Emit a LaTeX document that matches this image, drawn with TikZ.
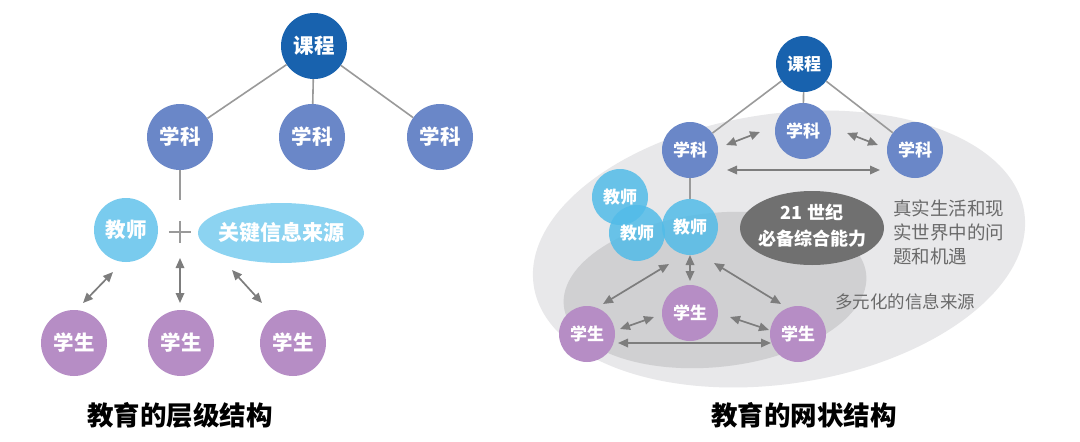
\documentclass[tikz,border=0pt]{standalone}
\usepackage{fontspec}
\setmainfont{Noto Sans CJK SC}
\usetikzlibrary{shapes.geometric,arrows.meta}
\definecolor{kcblue}{HTML}{1862AE}
\definecolor{xkblue}{HTML}{6A87C8}
\definecolor{jscyan}{HTML}{79CBEE}
\definecolor{jscyanR}{HTML}{52BCE8}
\definecolor{srccyan}{HTML}{8CD3F1}
\definecolor{xspurple}{HTML}{B68DC5}
\definecolor{linegray}{HTML}{9A9A9A}
\definecolor{arrgray}{HTML}{7D7D7D}
\definecolor{bigell}{HTML}{E8E8EA}
\definecolor{innerell}{HTML}{D0D0D2}
\definecolor{darkell}{HTML}{707070}
\definecolor{txtgray}{HTML}{6A6A6A}
\tikzset{
  bigcirc/.style={circle, minimum size=66pt, inner sep=0pt, text=white, font=\bfseries\fontsize{20.5}{20.5}\selectfont},
  smallcirc/.style={circle, minimum size=56pt, inner sep=0pt, text=white, font=\bfseries\fontsize{17}{17}\selectfont},
  link/.style={draw=linegray, line width=1.6pt},
  arr/.style={draw=arrgray, line width=1.7pt, {Triangle[length=10pt,width=8.5pt]}-{Triangle[length=10pt,width=8.5pt]}},
  titletext/.style={font=\bfseries\fontsize{26.5}{26.5}\selectfont, text=black},
}
\begin{document}
\begin{tikzpicture}[x=1pt,y=-1pt]
\useasboundingbox (0,0) rectangle (1080,442);
\fill[white] (0,0) rectangle (1080,442);

% ---------------- left: hierarchical ----------------
\node[bigcirc, fill=kcblue] (kc) at (314,46) {课程};
\node[bigcirc, fill=xkblue] (xk1) at (180,137) {学科};
\node[bigcirc, fill=xkblue] (xk2) at (312,137) {学科};
\node[bigcirc, fill=xkblue] (xk3) at (440,137) {学科};
\node[bigcirc, minimum size=64pt, fill=jscyan] (js) at (126,230) {教师};
\node[minimum size=22pt, inner sep=0pt] (plus) at (180,232) {};
\node[ellipse, fill=srccyan, minimum width=166pt, minimum height=60pt, inner sep=0pt] (src) at (281,233) {};
\node[text=white, font=\bfseries\fontsize{21}{21}\selectfont, inner sep=0pt] (srct) at (src) {关键信息来源};
\node[bigcirc, fill=xspurple] (xs1) at (74,343) {学生};
\node[bigcirc, fill=xspurple] (xs2) at (181,343) {学生};
\node[bigcirc, fill=xspurple] (xs3) at (293,343) {学生};

\draw[link] (kc) -- (xk1);
\draw[link] (kc) -- (xk2);
\draw[link] (kc) -- (xk3);
\draw[link] (xk1) -- ([shift={(0,-32)}]plus.center);
\draw[draw=linegray, line width=1.5pt] (plus.north) -- (plus.south) (plus.west) -- (plus.east);

\draw[arr] ([shift={(-13,42)}]js.center) -- ([shift={(9,-40)}]xs1.center);
\draw[arr] ([shift={(0,26)}]plus.center) -- ([shift={(-1,-40)}]xs2.center);
\draw[arr] ([shift={(-49,37)}]src.center) -- ([shift={(-31,-40)}]xs3.center);

\node[titletext] (t1) at (180,415) {教育的层级结构};

% ---------------- right: network ----------------
\fill[bigell, rotate around={8.5:(779,249)}] (779,249) ellipse [x radius=248, y radius=135];
\fill[innerell, rotate around={6:(715,290)}] (715,290) ellipse [x radius=152, y radius=77];
\node[ellipse, fill=darkell, minimum width=144pt, minimum height=74pt, inner sep=0pt] (core) at (812,228) {};
\node[text=white, align=center, font=\bfseries\fontsize{18}{26}\selectfont, inner sep=0pt] (coret) at (812,226) {21 世纪\\必备综合能力};
\node[text=txtgray, align=left, anchor=west, font=\fontsize{18.5}{24}\selectfont, inner sep=0pt] (world) at (893,232) {真实生活和现\\实世界中的问\\题和机遇};
\node[text=txtgray, font=\fontsize{17.5}{17.5}\selectfont, inner sep=0pt] (multi) at (905,302) {多元化的信息来源};

\node[smallcirc, fill=kcblue] (rkc) at (804,64) {课程};
\node[smallcirc, fill=xkblue] (rxk1) at (690,150) {学科};
\node[smallcirc, fill=xkblue] (rxk2) at (803,131) {学科};
\node[smallcirc, fill=xkblue] (rxk3) at (915,150) {学科};

\draw[link] (rkc) -- (rxk1);
\draw[link] (rkc) -- (rxk2);
\draw[link] (rkc) -- (rxk3);

\node[smallcirc, fill=jscyanR, fill opacity=0.85, text opacity=1] (rjs2) at (620,197) {教师};
\node[smallcirc, fill=jscyanR, fill opacity=0.85, text opacity=1] (rjs3) at (637,233) {教师};
\node[smallcirc, fill=jscyanR, fill opacity=0.85, text opacity=1] (rjs1) at (690,227) {教师};
\draw[link] (rxk1) -- (rjs1);

\node[smallcirc, fill=xspurple] (rxs1) at (587,334) {学生};
\node[smallcirc, fill=xspurple] (rxs2) at (690,313) {学生};
\node[smallcirc, fill=xspurple] (rxs3) at (798,334) {学生};

\draw[arr] ([shift={(36,-5)}]rxk1.center) -- ([shift={(-43,1)}]rxk2.center);
\draw[arr] ([shift={(44,2)}]rxk2.center) -- ([shift={(-37,-5)}]rxk3.center);
\draw[arr] ([shift={(37,20)}]rxk1.center) -- ([shift={(-35,20)}]rxk3.center);
\draw[arr] ([shift={(-21,37)}]rjs1.center) -- ([shift={(16,-30)}]rxs1.center);
\draw[arr] ([shift={(0,28)}]rjs1.center) -- ([shift={(0,-32)}]rxs2.center);
\draw[arr] ([shift={(24,36)}]rjs1.center) -- ([shift={(-17,-30)}]rxs3.center);
\draw[arr] ([shift={(33,-5)}]rxs1.center) -- ([shift={(-36,4)}]rxs2.center);
\draw[arr] ([shift={(40,4)}]rxs2.center) -- ([shift={(-29,-4)}]rxs3.center);
\draw[arr] ([shift={(31,9)}]rxs1.center) -- ([shift={(-27,9)}]rxs3.center);

\node[titletext] (t2) at (804,415) {教育的网状结构};
\end{tikzpicture}
\end{document}
